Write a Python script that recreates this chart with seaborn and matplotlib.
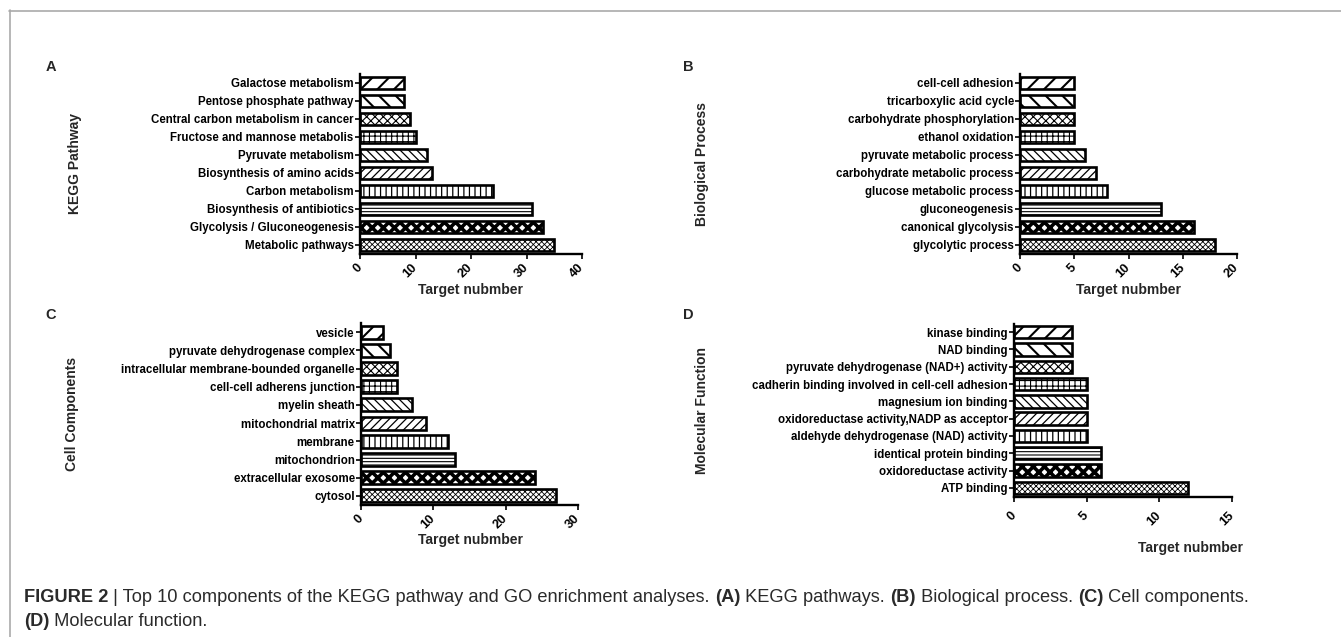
import matplotlib
matplotlib.use("Agg")
import matplotlib.pyplot as plt
from matplotlib.lines import Line2D
import seaborn as sns

# ---------------- data ----------------
kegg_terms = ["Galactose metabolism", "Pentose phosphate pathway",
              "Central carbon metabolism in cancer", "Fructose and mannose metabolis",
              "Pyruvate metabolism", "Biosynthesis of amino acids", "Carbon metabolism",
              "Biosynthesis of antibiotics", "Glycolysis / Gluconeogenesis",
              "Metabolic pathways"]
kegg_counts = [8, 8, 9, 10, 12, 13, 24, 31, 33, 35]

bp_terms = ["cell-cell adhesion", "tricarboxylic acid cycle",
            "carbohydrate phosphorylation", "ethanol oxidation",
            "pyruvate metabolic process", "carbohydrate metabolic process",
            "glucose metabolic process", "gluconeogenesis", "canonical glycolysis",
            "glycolytic process"]
bp_counts = [5, 5, 5, 5, 6, 7, 8, 13, 16, 18]

cc_terms = ["vesicle", "pyruvate dehydrogenase complex",
            "intracellular membrane-bounded organelle", "cell-cell adherens junction",
            "myelin sheath", "mitochondrial matrix", "membrane", "mitochondrion",
            "extracellular exosome", "cytosol"]
cc_counts = [3, 4, 5, 5, 7, 9, 12, 13, 24, 27]

mf_terms = ["kinase binding", "NAD binding", "pyruvate dehydrogenase (NAD+) activity",
            "cadherin binding involved in cell-cell adhesion", "magnesium ion binding",
            "oxidoreductase activity,NADP as acceptor",
            "aldehyde dehydrogenase (NAD) activity", "identical protein binding",
            "oxidoreductase activity", "ATP binding"]
mf_counts = [4, 4, 4, 5, 5, 5, 5, 6, 6, 12]

panel_letters = ["A", "B", "C", "D"]
y_titles = ["KEGG Pathway", "Biological Process", "Cell Components", "Molecular Function"]
x_title = "Target nubmber"
x_limits = [40, 20, 30, 15]
x_steps = [10, 5, 10, 5]

# ---------------- style ----------------
sns.set_theme(style="ticks")
LAB_FONT = ["Liberation Sans", "DejaVu Sans"]
plt.rcParams["font.family"] = ["Liberation Sans", "DejaVu Sans"]

W, H = 1341, 637
fig = plt.figure(figsize=(W / 100, H / 100), dpi=100)
fig.patch.set_facecolor("white")

def fx(px):
    return px / W

def fy(py):
    return 1 - py / H

# axes boxes in pixels: (x0, x1, ytop, ybottom)
boxes = [(360, 582, 74, 254), (1020, 1237, 74, 254),
         (361, 578, 323, 505), (1014, 1232, 323.5, 496.5)]

hatches = ["//", "\\\\", "xxxx", "+++", "\\\\\\\\", "////", "|||", "-----", "xxx", "xxxxxx"]
hatch_lw = [1.5, 1.5, 0.8, 0.8, 0.9, 0.9, 0.9, 0.8, 2.6, 0.6]

terms_all = [kegg_terms, bp_terms, cc_terms, mf_terms]
counts_all = [kegg_counts, bp_counts, cc_counts, mf_counts]

ylabel_x = [75, 702, 72, 702]
letter_pos = [(51, 67), (688, 67), (51, 315), (688, 315)]
xlab_pos = [(470, 290), (1128, 290), (470, 540), (1190, 548)]
tick_pad = [5, 5, 5, 9]

for i in range(4):
    x0, x1, yt, yb = boxes[i]
    ax = fig.add_axes([fx(x0), fy(yb), fx(x1) - fx(x0), (yb - yt) / H])
    sns.barplot(x=counts_all[i], y=terms_all[i], ax=ax, orient="h",
                color="white", edgecolor="black", linewidth=1.9, width=0.72,
                saturation=1)
    for p, h, lw in zip(ax.patches, hatches, hatch_lw):
        p.set_hatch(h)
        p.set_facecolor("white")
        if hasattr(p, "set_hatch_linewidth"):
            p.set_hatch_linewidth(lw)
    ax.set_xlim(0, x_limits[i])
    ax.set_xticks(list(range(0, x_limits[i] + 1, x_steps[i])))
    ax.set_ylim(9.5, -0.5)
    sns.despine(ax=ax)
    for s in ["left", "bottom"]:
        ax.spines[s].set_linewidth(1.7)
        ax.spines[s].set_color("black")
    ax.tick_params(axis="y", length=3.5, width=1.2, pad=1, colors="black")
    ax.tick_params(axis="x", length=3.5, width=1.2, pad=tick_pad[i], colors="black")
    for t in ax.get_yticklabels():
        t.set_fontfamily(LAB_FONT)
        t.set_fontweight("bold")
        t.set_fontsize(8.3)
    for t in ax.get_xticklabels():
        t.set_fontfamily(LAB_FONT)
        t.set_fontweight("bold")
        t.set_fontsize(9.3)
        t.set_rotation(45)
        t.set_ha("right")
        t.set_va("center")
        t.set_rotation_mode("anchor")
    ax.set_xlabel("")
    ax.set_ylabel("")
    xl, yl = xlab_pos[i]
    fig.text(fx(xl), fy(yl), x_title, ha="center", va="center",
             fontsize=10, fontweight="bold", family=LAB_FONT)
    fig.text(fx(ylabel_x[i]), fy((yt + yb) / 2), y_titles[i], rotation=90,
             ha="center", va="center", fontsize=10, fontweight="bold",
             family=LAB_FONT)
    lx, ly = letter_pos[i]
    fig.text(fx(lx), fy(ly), panel_letters[i], ha="center", va="center",
             fontsize=10.5, fontweight="bold", family=LAB_FONT)

# frame lines
fig.add_artist(Line2D([fx(9), 1], [fy(10.5), fy(10.5)], color="#aaaaaa", lw=1.2))
fig.add_artist(Line2D([fx(9.5), fx(9.5)], [fy(10), 0], color="#aaaaaa", lw=1.2))

# caption with mixed weights
cap_lines = [
    [("FIGURE 2", "bold"), (" | Top 10 components of the KEGG pathway and GO enrichment analyses. ", "normal"),
     ("(A)", "bold"), (" KEGG pathways. ", "normal"), ("(B)", "bold"),
     (" Biological process. ", "normal"), ("(C)", "bold"), (" Cell components.", "normal")],
    [("(D)", "bold"), (" Molecular function.", "normal")],
]
cap_y = [597, 622]
fig.canvas.draw()
renderer = fig.canvas.get_renderer()
for line, cy in zip(cap_lines, cap_y):
    xpix = 24
    for txt, wt in line:
        t = fig.text(fx(xpix), fy(cy), txt, ha="left", va="center", fontsize=13.15,
                     fontweight=wt, color="#2a2a2a", family=LAB_FONT)
        bb = t.get_window_extent(renderer)
        xpix += bb.width

fig.savefig("out.png", dpi=100, facecolor="white")
